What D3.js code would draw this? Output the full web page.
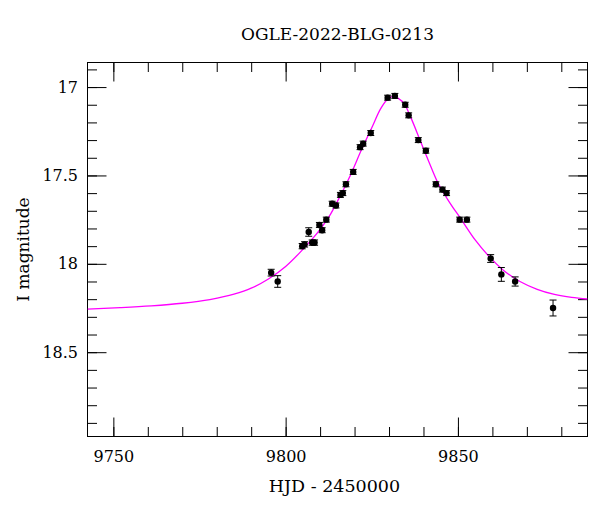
<!DOCTYPE html>
<html>
<head>
<meta charset="utf-8">
<script src="https://cdn.jsdelivr.net/npm/d3@7"></script>
<style>
  body { margin: 0; background: #fff; }
  svg { font-family: 'DejaVu Serif', serif; display: block; }
</style>
</head>
<body>
<svg id="chart" width="600" height="512"></svg>
<script>
// OGLE photometry (HJD - 2450000, I mag, error)
const hjd = [9795.8, 9797.7, 9804.8, 9805.5, 9806.7, 9807.7, 9808.4, 9809.8, 9810.6, 9811.8,
  9813.5, 9814.6, 9815.9, 9816.6, 9817.5, 9819.6, 9821.6, 9822.5, 9824.7, 9829.6,
  9831.7, 9834.7, 9835.7, 9838.5, 9840.7, 9843.6, 9845.5, 9846.7, 9850.5, 9852.6,
  9859.5, 9862.6, 9866.6, 9877.6];
const mag = [18.05, 18.10, 17.90, 17.89, 17.82, 17.88, 17.88, 17.78, 17.81, 17.75,
  17.66, 17.67, 17.61, 17.60, 17.55, 17.48, 17.34, 17.32, 17.26, 17.06,
  17.05, 17.10, 17.16, 17.30, 17.36, 17.55, 17.58, 17.60, 17.75, 17.75,
  17.97, 18.06, 18.10, 18.25];
const err = [0.019, 0.033, 0.015, 0.015, 0.024, 0.015, 0.015, 0.014, 0.014, 0.014,
  0.014, 0.014, 0.014, 0.014, 0.014, 0.014, 0.014, 0.014, 0.014, 0.014,
  0.014, 0.014, 0.014, 0.014, 0.014, 0.014, 0.014, 0.014, 0.014, 0.014,
  0.022, 0.039, 0.026, 0.045];

// model curve, sampled from the plot
const modelHjd = [9742.5, 9752, 9761, 9770, 9778, 9785, 9790, 9795, 9800, 9805,
  9810, 9813, 9816, 9819, 9822, 9825, 9827.5, 9829.5, 9831, 9832.7,
  9834.6, 9836.5, 9839, 9841.5, 9844, 9847, 9851, 9855, 9859.5, 9863,
  9868, 9873, 9878, 9883, 9887.6];
const modelMag = [18.256, 18.248, 18.238, 18.223, 18.202, 18.172, 18.138, 18.086, 18.015, 17.918,
  17.805, 17.72, 17.61, 17.49, 17.355, 17.23, 17.125, 17.07, 17.054, 17.064,
  17.10, 17.18, 17.30, 17.42, 17.535, 17.635, 17.75, 17.865, 17.968, 18.033,
  18.100, 18.144, 18.173, 18.190, 18.199];

const xMajorTicks = [9750, 9800, 9850];
const xMinorTicks = [9750, 9760, 9770, 9780, 9790, 9800, 9810, 9820, 9830, 9840, 9850, 9860, 9870, 9880];
const yMajorTicks = [17, 17.5, 18, 18.5];
const yMinorTicks = [16.9, 17.0, 17.1, 17.2, 17.3, 17.4, 17.5, 17.6, 17.7, 17.8, 17.9,
  18.0, 18.1, 18.2, 18.3, 18.4, 18.5, 18.6, 18.7, 18.8, 18.9];

const LEFT = 87.5, TOP = 62.5, W = 500, H = 374;
const MAJOR = 19, MINOR = 9.5;

const svg = d3.select('#chart');
const g = svg.append('g').attr('transform', `translate(${LEFT},${TOP})`);

const x = d3.scaleLinear().domain([9742.5, 9887.6]).range([0, W]);
const y = d3.scaleLinear().domain([16.861, 18.977]).range([0, H]);

// [axis, ticks, tick length, padding (null = no labels), transform]
const axes = [
  [d3.axisBottom(x), xMinorTicks, MINOR, null, `translate(0,${H})`],
  [d3.axisBottom(x), xMajorTicks, MAJOR, 14.5, `translate(0,${H})`],
  [d3.axisTop(x), xMinorTicks, MINOR, null, null],
  [d3.axisTop(x), xMajorTicks, MAJOR, null, null],
  [d3.axisLeft(y), yMinorTicks, MINOR, null, null],
  [d3.axisLeft(y), yMajorTicks, MAJOR, 9.5, null],
  [d3.axisRight(y), yMinorTicks, MINOR, null, `translate(${W},0)`],
  [d3.axisRight(y), yMajorTicks, MAJOR, null, `translate(${W},0)`]
];

axes.forEach(([axis, ticks, size, pad, tr]) => {
  const a = g.append('g');
  if (tr) a.attr('transform', tr);
  a.call(axis.tickValues(ticks).tickSize(-size)
    .tickPadding(pad === null ? 0 : pad)
    .tickFormat(pad === null ? () => '' : d3.format('')));
  a.select('.domain').remove();
  a.selectAll('line').attr('stroke', '#000').attr('stroke-width', 1);
  a.selectAll('text').attr('font-size', 16).attr('fill', '#000')
    .attr('font-family', "'DejaVu Serif', serif");
});

g.append('rect')
  .attr('x', 0).attr('y', 0)
  .attr('width', W).attr('height', H)
  .attr('fill', 'none').attr('stroke', '#000').attr('stroke-width', 1);

svg.append('clipPath').attr('id', 'plotclip')
  .append('rect').attr('width', W).attr('height', H);

const model = modelHjd.map((t, i) => ({ t: t, m: modelMag[i] }));
g.append('path')
  .datum(model)
  .attr('clip-path', 'url(#plotclip)')
  .attr('fill', 'none')
  .attr('stroke', '#ff00ff')
  .attr('stroke-width', 1.3)
  .attr('d', d3.line().x(d => x(d.t)).y(d => y(d.m)).curve(d3.curveMonotoneX));

const pts = hjd.map((t, i) => ({ t: t, m: mag[i], e: err[i] }));
const pg = g.selectAll('.pt').data(pts).enter().append('g').classed('pt', true);

pg.append('line')
  .attr('x1', d => x(d.t)).attr('x2', d => x(d.t))
  .attr('y1', d => y(d.m - d.e)).attr('y2', d => y(d.m + d.e))
  .attr('stroke', '#000');
pg.append('line')
  .attr('x1', d => x(d.t) - 3.5).attr('x2', d => x(d.t) + 3.5)
  .attr('y1', d => y(d.m - d.e)).attr('y2', d => y(d.m - d.e))
  .attr('stroke', '#000');
pg.append('line')
  .attr('x1', d => x(d.t) - 3.5).attr('x2', d => x(d.t) + 3.5)
  .attr('y1', d => y(d.m + d.e)).attr('y2', d => y(d.m + d.e))
  .attr('stroke', '#000');
pg.append('circle')
  .attr('cx', d => x(d.t)).attr('cy', d => y(d.m))
  .attr('r', 3.2)
  .attr('fill', '#000');

svg.append('text')
  .attr('x', LEFT + W / 2).attr('y', 40)
  .attr('text-anchor', 'middle')
  .attr('font-size', 17)
  .text('OGLE-2022-BLG-0213');

svg.append('text')
  .attr('x', LEFT + W / 2 - 3).attr('y', 491.5)
  .attr('text-anchor', 'middle')
  .attr('font-size', 17.5)
  .text('HJD - 2450000');

svg.append('text')
  .attr('transform', `translate(28.5,${TOP + H / 2}) rotate(-90)`)
  .attr('text-anchor', 'middle')
  .attr('font-size', 17)
  .text('I magnitude');
</script>
</body>
</html>
